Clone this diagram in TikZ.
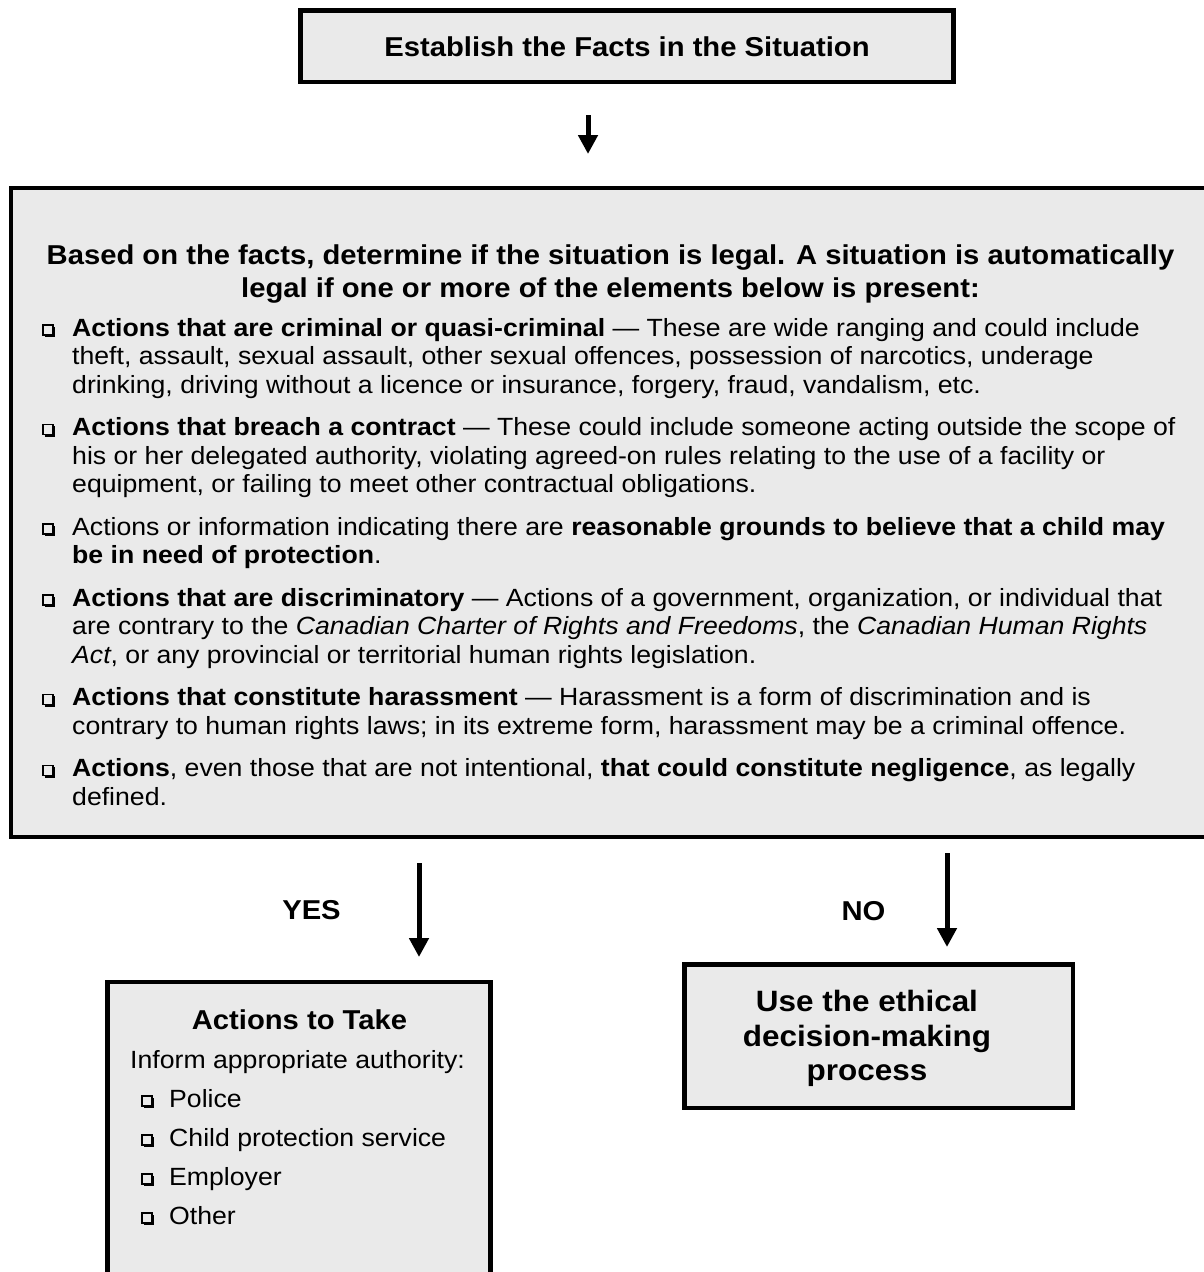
\documentclass[tikz,border=0pt]{standalone}
\usepackage{fontspec}
\setmainfont{Liberation Sans}[FakeStretch=1.07]
\usetikzlibrary{arrows.meta}
\definecolor{boxgray}{RGB}{234,234,234}
\begin{document}
\begin{tikzpicture}[x=1pt,y=-1pt,
  box/.style={draw=black, line width=4.5pt, fill=boxgray, inner sep=0pt, outer sep=0pt},
  arr/.style={draw=black, line width=5pt, -{Triangle[width=19pt,length=19pt]}},
  bodyline/.style={anchor=base west, inner sep=0pt, font=\fontsize{24.9}{28}\selectfont},
  ttl/.style={anchor=base, inner sep=0pt, font=\bfseries\fontsize{27.3}{31}\selectfont},
  big/.style={anchor=base, inner sep=0pt, font=\bfseries\fontsize{29.4}{34}\selectfont},
  chk/.pic={
    \draw[line width=1.3pt] (0,-11) rectangle (10,-1);
    \draw[line width=2.2pt] (1.6,0.1) -- (11.1,0.1) -- (11.1,-9.4);
  }
]
\path[use as bounding box] (0,0) rectangle (1204,1272);
\clip (0,0) rectangle (1204,1272);

% boxes
\node[box, minimum width=653pt, minimum height=71.5pt] (facts) at (627,46.25)
  {\bfseries\fontsize{27.3}{31}\selectfont Establish the Facts in the Situation};
\node[box, minimum width=1229pt, minimum height=649pt] (legal) at (625.5,512.5) {};
\node[box, minimum width=383pt, minimum height=318pt] (take) at (299,1141) {};
\node[box, minimum width=388.5pt, minimum height=143.5pt] (ethic) at (878.75,1036.25) {};

% arrows
\coordinate (a1s) at (588,115);
\coordinate (a1e) at (588,154);
\coordinate (a2s) at (419,863);
\coordinate (a2e) at (419,957);
\coordinate (a3s) at (947,853);
\coordinate (a3e) at (947,947);
\draw[arr] (a1s) -- (a1e);
\draw[arr] (a2s) -- (a2e);
\draw[arr] (a3s) -- (a3e);

\node[ttl] (yes) at (311.5,919) {YES};
\node[ttl] (no) at (863.5,920) {NO};

% title of the legal box
\node[ttl] (t1) at (610.5,264) {Based on the facts, determine if the situation is legal. A situation is automatically};
\node[ttl] (t2) at (610.5,297) {legal if one or more of the elements below is present:};

% item 1
\pic at (43,336) {chk};
\node[bodyline] (i1a) at (72,336) {\textbf{Actions that are criminal or quasi-criminal} — These are wide ranging and could include};
\node[bodyline] (i1b) at (72,364.5) {theft, assault, sexual assault, other sexual offences, possession of narcotics, underage};
\node[bodyline] (i1c) at (72,393) {drinking, driving without a licence or insurance, forgery, fraud, vandalism, etc.};
% item 2
\pic at (43,435.5) {chk};
\node[bodyline] (i2a) at (72,435.5) {\textbf{Actions that breach a contract} — These could include someone acting outside the scope of};
\node[bodyline] (i2b) at (72,464) {his or her delegated authority, violating agreed-on rules relating to the use of a facility or};
\node[bodyline] (i2c) at (72,492.5) {equipment, or failing to meet other contractual obligations.};
% item 3
\pic at (43,535) {chk};
\node[bodyline] (i3a) at (72,535) {Actions or information indicating there are \textbf{reasonable grounds to believe that a child may}};
\node[bodyline] (i3b) at (72,563.5) {\textbf{be in need of protection}.};
% item 4
\pic at (43,606) {chk};
\node[bodyline] (i4a) at (72,606) {\textbf{Actions that are discriminatory} — Actions of a government, organization, or individual that};
\node[bodyline] (i4b) at (72,634.5) {are contrary to the \textit{Canadian Charter of Rights and Freedoms}, the \textit{Canadian Human Rights}};
\node[bodyline] (i4c) at (72,663) {\textit{Act}, or any provincial or territorial human rights legislation.};
% item 5
\pic at (43,705.5) {chk};
\node[bodyline] (i5a) at (72,705.5) {\textbf{Actions that constitute harassment} — Harassment is a form of discrimination and is};
\node[bodyline] (i5b) at (72,734) {contrary to human rights laws; in its extreme form, harassment may be a criminal offence.};
% item 6
\pic at (43,776.5) {chk};
\node[bodyline] (i6a) at (72,776.5) {\textbf{Actions}, even those that are not intentional, \textbf{that could constitute negligence}, as legally};
\node[bodyline] (i6b) at (72,805) {defined.};

% actions to take
\node[ttl] (k0) at (299.5,1029) {Actions to Take};
\node[bodyline] (k1) at (130,1068) {Inform appropriate authority:};
\pic at (142,1107) {chk};
\node[bodyline] (k2) at (169,1107) {Police};
\pic at (142,1146) {chk};
\node[bodyline] (k3) at (169,1146) {Child protection service};
\pic at (142,1185) {chk};
\node[bodyline] (k4) at (169,1185) {Employer};
\pic at (142,1224) {chk};
\node[bodyline] (k5) at (169,1224) {Other};

% ethical box text
\node[big] (e1) at (867,1011) {Use the ethical};
\node[big] (e2) at (867,1046) {decision-making};
\node[big] (e3) at (867,1080) {process};
\end{tikzpicture}
\end{document}
